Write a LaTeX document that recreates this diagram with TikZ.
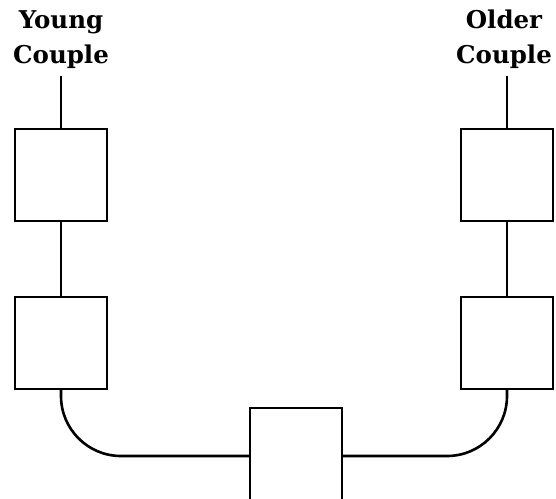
\documentclass[tikz,border=0pt]{standalone}
\usepackage{fontspec}
\setmainfont{DejaVu Serif}
\begin{document}
\begin{tikzpicture}[x=1pt,y=-1pt,
  box/.style={draw, line width=2.6pt, minimum width=92pt, minimum height=92pt, inner sep=0pt, outer sep=0pt},
  conn/.style={line width=2.6pt},
  lbl/.style={font=\bfseries\fontsize{24.5}{35}\selectfont, align=center, inner sep=0pt, anchor=base}]
\useasboundingbox (0,0) rectangle (556,498);
\clip (0,0) rectangle (556,498);
\node[lbl] (yc) at (61,63) {Young\\Couple};
\node[lbl] (oc) at (504,63) {Older\\Couple};
\coordinate (ycb) at (61,76);
\coordinate (ocb) at (507,76);
\node[box] (l1) at (61,175) {};
\node[box] (l2) at (61,343) {};
\node[box] (r1) at (507,175) {};
\node[box] (r2) at (507,343) {};
\node[box, minimum height=120pt, anchor=north] (m) at (296,408) {};
\draw[conn] (ycb) -- (l1.north);
\draw[conn] (ocb) -- (r1.north);
\draw[conn] (l1.south) -- (l2.north);
\draw[conn] (r1.south) -- (r2.north);
\draw[conn, rounded corners=60pt] (l2.south) |- (m.west |- 0,456);
\draw[conn, rounded corners=60pt] (r2.south) |- (m.east |- 0,456);
\end{tikzpicture}
\end{document}
